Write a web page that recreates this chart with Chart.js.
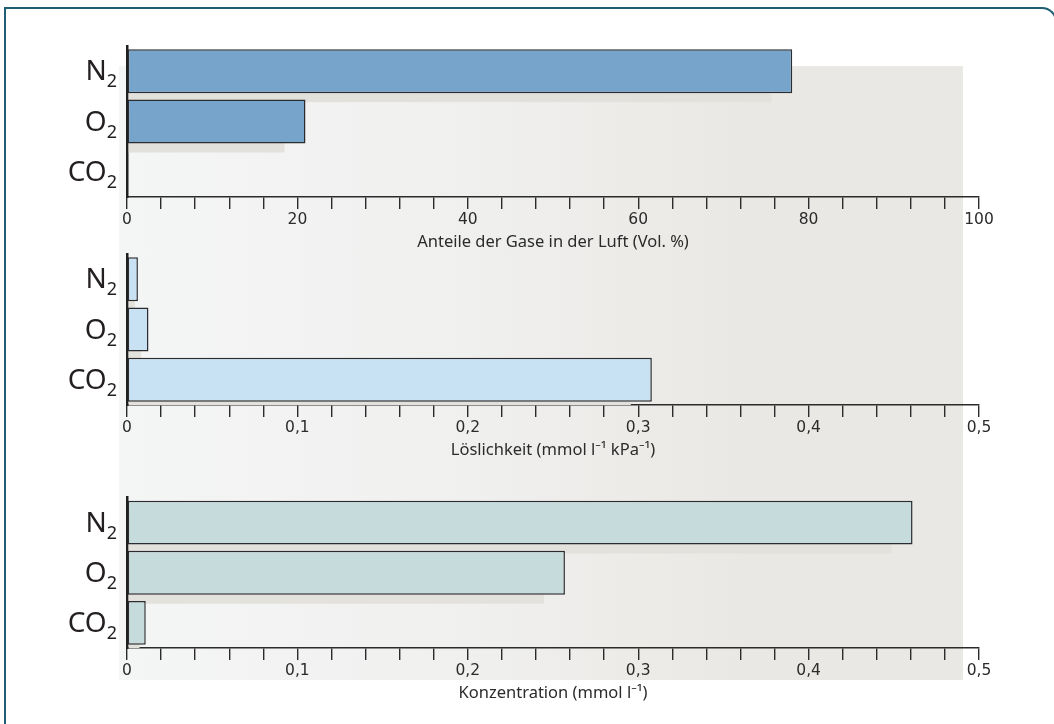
<!DOCTYPE html>
<html>
<head>
<meta charset="utf-8">
<script src="https://cdn.jsdelivr.net/npm/chart.js@4.4.1/dist/chart.umd.min.js"></script>
<style>
  body { margin: 0; background: #fff; width: 1054px; height: 724px; overflow: hidden; position: relative; }
  #frame { position: absolute; left: 4px; top: 7px; width: 1049px; height: 740px; border: 2px solid #1f5e75; border-bottom: none; border-top-right-radius: 15px; }
  #panel { position: absolute; left: 119px; top: 66px; width: 844px; height: 614px;
    background: linear-gradient(to right, #f4f5f5 0%, #f0f0ef 40%, #eae8e4 75%, #eae8e4 100%); }
  canvas { position: absolute; left: 0; }
</style>
</head>
<body>
<div id="frame"></div>
<div id="panel"></div>
<canvas id="airChart" width="1054" height="260" style="top:0px"></canvas>
<canvas id="solChart" width="1054" height="215" style="top:250px"></canvas>
<canvas id="concChart" width="1054" height="228" style="top:480px"></canvas>
<script>
// gases, top to bottom
const gases = ['N2', 'O2', 'CO2'];

// values
const airShare = [78.08, 20.95, 0.04];        // Vol. %
const solubility = [0.0064, 0.0126, 0.308];   // mmol l-1 kPa-1
const concentration = [0.461, 0.257, 0.011];  // mmol l-1

// labelled ticks
const airTicks = [0, 20, 40, 60, 80, 100];
const molTicks = [0, 0.1, 0.2, 0.3, 0.4, 0.5];

const ink = '#2b2b2b';

// grey shadow behind each bar, shifted down and cut short on the right
const barShadow = {
  id: 'barShadow',
  beforeDatasetsDraw(chart) {
    const { ctx, chartArea } = chart;
    ctx.save();
    ctx.beginPath();
    ctx.rect(chartArea.left, chartArea.top, chartArea.width, chartArea.height);
    ctx.clip();
    ctx.fillStyle = '#e3e1dc';
    chart.getDatasetMeta(0).data.forEach(bar => {
      const len = bar.x - bar.base;
      const w = Math.max(len - 22, len * 0.6);
      if (w < 2) return;
      ctx.fillRect(bar.base + 1, bar.y - bar.height / 2 + 9, w, bar.height);
    });
    ctx.restore();
  }
};

// category labels with the trailing digit as subscript
const gasLabels = {
  id: 'gasLabels',
  afterDraw(chart) {
    const { ctx } = chart;
    const yScale = chart.scales.y;
    const right = chart.chartArea.left - 10;
    ctx.save();
    ctx.fillStyle = '#231f20';
    ctx.textAlign = 'right';
    ctx.textBaseline = 'alphabetic';
    chart.data.labels.forEach((label, i) => {
      const y = yScale.getPixelForValue(i);
      const main = label.slice(0, -1);
      const sub = label.slice(-1);
      ctx.font = '18px "Noto Sans"';
      const subW = ctx.measureText(sub).width;
      ctx.fillText(sub, right, y + 16);
      ctx.font = '28px "Noto Sans"';
      ctx.fillText(main, right - subW, y + 9);
    });
    ctx.restore();
  }
};

function airLabel(v) {
  return airTicks.includes(v) ? String(v) : '';
}

function molLabel(v) {
  const hit = molTicks.find(t => Math.abs(t - v) < 1e-9);
  if (hit === undefined) return '';
  return hit === 0 ? '0' : hit.toFixed(1).replace('.', ',');
}

function makeChart(id, values, color, maxVal, step, labelFn, title, padTop, padBottom) {
  return new Chart(document.getElementById(id), {
    type: 'bar',
    data: {
      labels: gases,
      datasets: [{
        data: values,
        backgroundColor: color,
        borderColor: '#2a2c2f',
        borderWidth: 1.5,
        borderSkipped: false,
        barPercentage: 0.875,
        categoryPercentage: 1
      }]
    },
    options: {
      indexAxis: 'y',
      responsive: false,
      animation: false,
      layout: { padding: { left: 127, right: 75, top: padTop, bottom: padBottom } },
      plugins: {
        legend: { display: false },
        tooltip: { enabled: false }
      },
      scales: {
        x: {
          min: 0,
          max: maxVal,
          afterFit: s => { s.height = 58; },
          border: { display: true, color: ink, width: 1.5 },
          grid: { drawOnChartArea: false, drawTicks: true, tickLength: 12, color: ink, lineWidth: 1.4 },
          ticks: {
            stepSize: step,
            autoSkip: false,
            maxRotation: 0,
            padding: 2,
            color: ink,
            font: { family: 'DejaVu Sans', size: 15.5 },
            callback: labelFn
          },
          title: {
            display: true,
            text: title,
            color: ink,
            font: { family: 'Noto Sans', size: 16.5 },
            padding: { top: 0, bottom: 3 }
          }
        },
        y: {
          afterFit: s => { s.width = 0; },
          grid: { display: false },
          border: { display: true, color: '#1f1f1f', width: 2.5 },
          ticks: { display: false }
        }
      }
    },
    plugins: [barShadow, gasLabels]
  });
}

makeChart('airChart', airShare, '#76a4cb', 100, 4, airLabel,
  'Anteile der Gase in der Luft (Vol. %)', 46, 5);
makeChart('solChart', solubility, '#c8e2f3', 0.5, 0.02, molLabel,
  'Löslichkeit (mmol l⁻¹ kPa⁻¹)', 4, 2);
makeChart('concChart', concentration, '#c6dbdb', 0.5, 0.02, molLabel,
  'Konzentration (mmol l⁻¹)', 17.5, 2);
</script>
</body>
</html>
